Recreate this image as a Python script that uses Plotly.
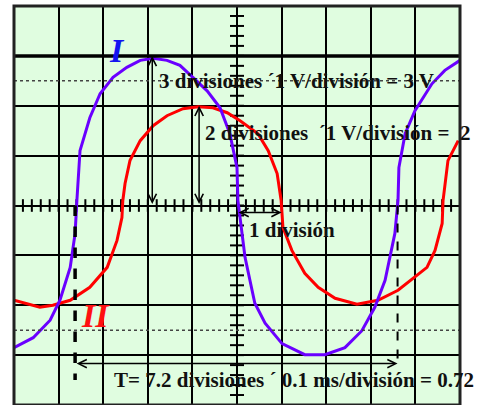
import numpy as np
import plotly.graph_objects as go

# oscilloscope screen, values in divisions (x: 0..10, y: -4..4)
ch1_x = [0.00, 0.43, 0.81, 1.03, 1.26, 1.37, 1.41, 1.48, 1.70, 1.93, 2.22, 2.53, 2.83, 3.12,
         3.43, 3.72, 4.01, 4.33, 4.62, 4.84, 5.00, 5.02, 5.18, 5.40, 5.63, 6.01, 6.52, 6.97,
         7.42, 7.80, 8.09, 8.32, 8.54, 8.61, 8.63, 8.77, 8.99, 9.37, 9.66, 10.0]
ch1_y = [-2.85, -2.65, -2.30, -1.90, -1.24, -0.56, 0.10, 1.10, 1.76, 2.24, 2.57, 2.77, 2.91, 2.95,
         2.91, 2.81, 2.57, 2.30, 1.96, 1.44, 0.76, 0.10, -1.04, -1.96, -2.36, -2.77, -2.99, -2.99,
         -2.85, -2.51, -2.04, -1.50, -0.56, 0.10, 0.76, 1.44, 1.90, 2.44, 2.71, 2.91]

ch2_x = [0.00, 0.58, 0.87, 1.26, 1.70, 2.09, 2.31, 2.42, 2.44, 2.49, 2.60, 2.83, 3.12, 3.43,
         3.79, 4.13, 4.46, 4.78, 5.07, 5.47, 5.70, 5.90, 5.99, 6.03, 6.23, 6.52, 6.82, 7.20,
         7.69, 8.16, 8.61, 8.99, 9.26, 9.44, 9.60, 9.62, 9.73, 9.96]
ch2_y = [-1.90, -2.04, -2.00, -1.90, -1.64, -1.24, -0.70, -0.24, 0.10, 0.44, 0.90, 1.30, 1.60, 1.80,
         1.94, 1.98, 1.96, 1.86, 1.70, 1.44, 1.10, 0.64, 0.10, -0.44, -0.90, -1.36, -1.64, -1.86,
         -1.98, -1.90, -1.70, -1.44, -1.24, -0.90, -0.36, 0.10, 0.90, 1.30]

amp1 = 3
amp2 = 2
period_start = 1.37
period_end = 8.6

txt_font = dict(family='Liberation Serif, Times New Roman, serif', size=21, color='#111111')

fig = go.Figure()

# graticule ticks on the centre axes
fig.add_trace(go.Scatter(x=np.arange(0, 10.01, 0.2), y=np.zeros(51), mode='markers',
                         marker=dict(symbol='line-ns', size=9, line=dict(width=2, color='black')),
                         hoverinfo='skip', showlegend=False))
fig.add_trace(go.Scatter(x=np.full(41, 5.0), y=np.arange(-4, 4.01, 0.2), mode='markers',
                         marker=dict(symbol='line-ew', size=10, line=dict(width=2, color='black')),
                         hoverinfo='skip', showlegend=False))

fig.add_trace(go.Scatter(x=ch2_x, y=ch2_y, mode='lines', name='II',
                         line=dict(color='#ff0000', width=3), showlegend=False))
fig.add_trace(go.Scatter(x=ch1_x, y=ch1_y, mode='lines', name='I',
                         line=dict(color='#6a00ff', width=3), showlegend=False))

shapes = [
    dict(type='line', xref='x', yref='y', x0=0, x1=10, y0=2.5, y1=2.5,
         line=dict(color='#444', width=1.5, dash='dot')),
    dict(type='line', xref='x', yref='y', x0=0, x1=10, y0=-2.5, y1=-2.5,
         line=dict(color='#444', width=1.5, dash='dot')),
    dict(type='line', xref='x', yref='y', x0=0, x1=10, y0=3, y1=3,
         line=dict(color='black', width=3.5)),
    dict(type='line', xref='x', yref='y', x0=period_start, x1=period_start, y0=0, y1=-3.5,
         line=dict(color='black', width=3.5, dash='dash')),
    dict(type='line', xref='x', yref='y', x0=period_end, x1=period_end, y0=0, y1=-3.1,
         line=dict(color='black', width=2, dash='dash')),
    dict(type='rect', xref='paper', yref='paper', x0=0, x1=1, y0=0, y1=1,
         line=dict(color='#222', width=3)),
]

arrow = dict(text='', showarrow=True, xref='x', yref='y', axref='x', ayref='y',
             arrowside='end+start', arrowhead=5, arrowsize=1.1, arrowwidth=1.5, arrowcolor='black')
annotations = [
    dict(arrow, x=3.1, y=amp1, ax=3.1, ay=0),
    dict(arrow, x=4.15, y=amp2, ax=4.15, ay=0),
    dict(arrow, x=6, y=-0.14, ax=5, ay=-0.14),
    dict(arrow, x=period_end, y=-3.17, ax=period_start, ay=-3.17),
    dict(text='<b>3 divisiones \u00b41 V/divisi\u00f3n = 3 V</b>', x=3.2, y=2.5, xref='x', yref='y',
         xanchor='left', yanchor='middle', showarrow=False, font=txt_font),
    dict(text='<b>2 divisiones  \u00b41 V/divisi\u00f3n =  2</b>', x=4.24, y=1.46, xref='x', yref='y',
         xanchor='left', yanchor='middle', showarrow=False, font=txt_font),
    dict(text='<b>1 divisi\u00f3n</b>', x=5.22, y=-0.5, xref='x', yref='y',
         xanchor='left', yanchor='middle', showarrow=False, font=txt_font),
    dict(text='<b>T= 7.2 divisiones \u00b4 0.1 ms/divisi\u00f3n = 0.72</b>', x=2.2, y=-3.5,
         xref='x', yref='y', xanchor='left', yanchor='middle', showarrow=False, font=txt_font),
    dict(text='<b><i>I</i></b>', x=2.31, y=3.1, xref='x', yref='y', showarrow=False,
         font=dict(family='Liberation Serif, serif', size=34, color='#1414f0')),
    dict(text='<b><i>II</i></b>', x=1.82, y=-2.2, xref='x', yref='y', showarrow=False,
         font=dict(family='Liberation Serif, serif', size=34, color='#ff1010')),
]

fig.update_layout(
    width=490, height=405,
    margin=dict(l=14, r=30, t=6, b=0, autoexpand=False),
    plot_bgcolor='#e0fde0',
    paper_bgcolor='white',
    shapes=shapes,
    annotations=annotations,
    xaxis=dict(range=[0, 10], dtick=1, showgrid=True, gridcolor='black', gridwidth=2,
               zeroline=False, showticklabels=False, ticks=''),
    yaxis=dict(range=[-4, 4], dtick=1, showgrid=True, gridcolor='black', gridwidth=2,
               zeroline=False, showticklabels=False, ticks=''),
)

fig.write_html("out.html", config={'displayModeBar': False},
               post_script="document.body.style.margin='0px';")
